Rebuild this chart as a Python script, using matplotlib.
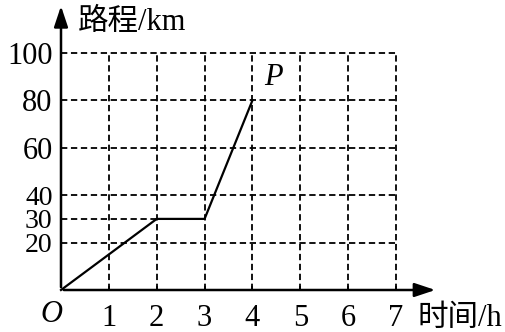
import matplotlib.pyplot as plt

# data
t = [0, 2, 3, 4]
s = [0, 30, 30, 80]
x_ticks = [1, 2, 3, 4, 5, 6, 7]
y_ticks = [20, 30, 40, 60, 80, 100]
y_grid_full = [20, 40, 60, 80, 100]

serif = ['Liberation Serif', 'Noto Sans CJK SC']
plt.rcParams['font.family'] = serif

W, H = 505, 332
fig = plt.figure(figsize=(W / 100, H / 100), dpi=100)
# origin at px (61, 290), (7, 100) at px (396, 53)
ax = fig.add_axes([61 / W, (H - 290) / H, (396 - 61) / W, (290 - 53) / H])
ax.set_xlim(0, 7)
ax.set_ylim(0, 100)
for sp in ax.spines.values():
    sp.set_visible(False)

dash = dict(color='black', lw=1.3, linestyle=(0, (3.5, 2)), clip_on=False)
for xv in x_ticks:
    ax.plot([xv, xv], [0, 100], **dash)
for yv in y_grid_full:
    ax.plot([0, 7], [yv, yv], **dash)
ax.plot([0, 2], [30, 30], **dash)

# the path
ax.plot(t, s, color='black', lw=1.6, clip_on=False)

# axes with arrows
arrow = dict(arrowstyle='-|>,head_length=0.9,head_width=0.3', color='black', lw=1.8, mutation_scale=14)
ax.annotate('', xy=(7.88, 0), xytext=(0, 0), arrowprops=arrow, annotation_clip=False)
ax.annotate('', xy=(0, 121), xytext=(0, 0), arrowprops=arrow, annotation_clip=False)

ax.set_xticks(x_ticks)
ax.set_xticklabels([str(v) for v in x_ticks])
ax.set_yticks(y_ticks)
ax.set_yticklabels([str(v) for v in y_ticks])
ax.tick_params(axis='x', direction='in', length=3, width=1.2, pad=10, labelsize=22)
ax.tick_params(axis='y', length=0, pad=6, labelsize=22)
# tighten the crowded 20/30/40 labels a little
for lab in ax.get_yticklabels():
    if lab.get_text() in ('20', '30', '40'):
        lab.set_fontsize(20)

ax.text(-0.2, -10.5, 'O', fontsize=22, style='italic', ha='center', va='center')
ax.text(4.45, 89.5, 'P', fontsize=22, style='italic', ha='center', va='center')
ax.text(0.35, 113, '路程/km', fontsize=22, ha='left', va='center')
ax.text(7.45, -12, '时间/h', fontsize=22, ha='left', va='center')

fig.savefig('out.png', dpi=100)
